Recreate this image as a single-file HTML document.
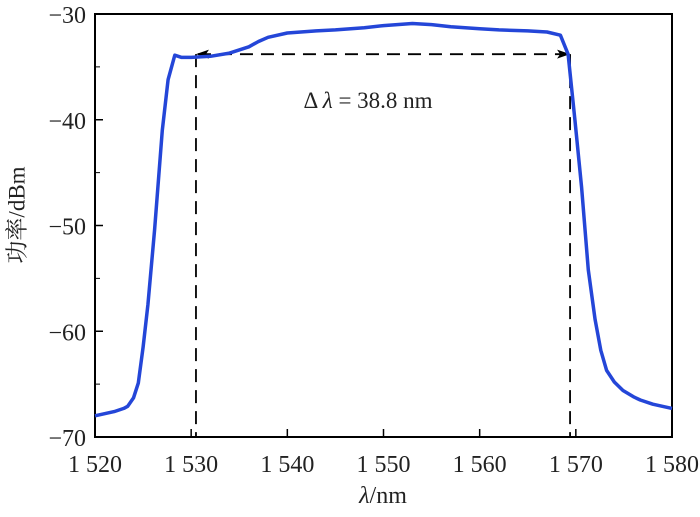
<!DOCTYPE html>
<html><head><meta charset="utf-8"><style>
body{margin:0;background:#fff;}
svg text{font-family:"Liberation Serif","Noto Serif CJK SC",serif;fill:#222;}
</style></head><body>
<svg width="700" height="512" id="c">
<rect x="95" y="14" width="577" height="423" fill="none" stroke="#000" stroke-width="2"/>
<g id="ticks"></g>
<text x="17" y="215" font-size="23" transform="rotate(-90 17 215)" text-anchor="middle" dominant-baseline="central">功率/dBm</text>
<text x="383" y="503" font-size="24" text-anchor="middle"><tspan font-style="italic">λ</tspan>/nm</text>
<text x="368" y="108" font-size="23" text-anchor="middle">Δ <tspan font-style="italic">λ</tspan> = 38.8 nm</text>
<g id="series"></g>
</svg>
<script>
const xTicks=[1520,1530,1540,1550,1560,1570,1580];
const yTicks=[-30,-40,-50,-60,-70];
const wl=[1520,1521,1522,1523,1523.4,1524,1524.5,1525,1525.5,1526.2,1527,1527.6,1528.3,1529,1530,1532,1534,1536,1537,1538,1540,1543,1545,1548,1550,1553,1555,1557,1560,1562,1565,1567,1568.4,1569.2,1569.9,1570.6,1571.3,1572,1572.6,1573.2,1574,1574.9,1576,1576.7,1578,1579,1580];
const pw=[-68,-67.8,-67.6,-67.3,-67.1,-66.3,-64.9,-61.5,-57.5,-50.4,-41,-36.2,-33.9,-34.1,-34.1,-34,-33.7,-33.1,-32.6,-32.2,-31.8,-31.6,-31.5,-31.3,-31.1,-30.9,-31,-31.2,-31.4,-31.5,-31.6,-31.7,-32,-33.8,-40,-46.4,-54.2,-58.9,-61.8,-63.7,-64.8,-65.6,-66.2,-66.5,-66.9,-67.1,-67.3];
const bandL=1530.5, bandR=1569.4, bandY=-33.8;
const X=v=>95+(v-1520)/60*577, Y=v=>14+(-30-v)/40*423;
const NS="http://www.w3.org/2000/svg";
function mk(t,a,p){const e=document.createElementNS(NS,t);for(const k in a)e.setAttribute(k,a[k]);p.appendChild(e);return e;}
const tg=document.getElementById('ticks');
xTicks.forEach(t=>{
 const l=mk('line',{x1:X(t),x2:X(t),y1:437,y2:429,stroke:'#000','stroke-width':1.5},tg);
 
 
 const s=mk('text',{x:X(t),y:472,'font-size':24,'text-anchor':'middle'},tg);s.textContent=String(t).replace(/^1/,'1 ');
 
 
});
yTicks.forEach(t=>{
 const l=mk('line',{x1:95,x2:103,y1:Y(t),y2:Y(t),stroke:'#000','stroke-width':1.5},tg);
 
 
 const s=mk('text',{x:86,y:Y(t)+9,'font-size':24,'text-anchor':'end'},tg);s.textContent='\u2212'+Math.abs(t);
 
 
});
for(let v=-35;v>-70;v-=10){const l=mk('line',{x1:95,x2:100,y1:Y(v),y2:Y(v),stroke:'#000','stroke-width':1},tg);
 
 }
const sg=document.getElementById('series');
[bandL,bandR].forEach(b=>{const l=mk('line',{x1:X(b),x2:X(b),y1:Y(bandY),y2:437,stroke:'#000','stroke-width':1.8,'stroke-dasharray':'13 8'},sg);
 
 });
const ar=mk('line',{x1:X(bandL)+2,x2:X(bandR)-2,y1:Y(bandY),y2:Y(bandY),stroke:'#000','stroke-width':1.8,'stroke-dasharray':'13 8'},sg);


[[X(bandL),1],[X(bandR),-1]].forEach(([x,d])=>{const p=mk('path',{d:`M${x} ${Y(bandY)} l${13*d} -4.5 l${-3*d} 4.5 l${3*d} 4.5z`,fill:'#000'},sg);
 
 });
const path=mk('path',{d:wl.map((w,i)=>(i?'L':'M')+X(w).toFixed(1)+' '+Y(pw[i]).toFixed(1)).join(''),fill:'none',stroke:'#2446d8','stroke-width':3.5,'stroke-linejoin':'round'},sg);


</script>
</body></html>
